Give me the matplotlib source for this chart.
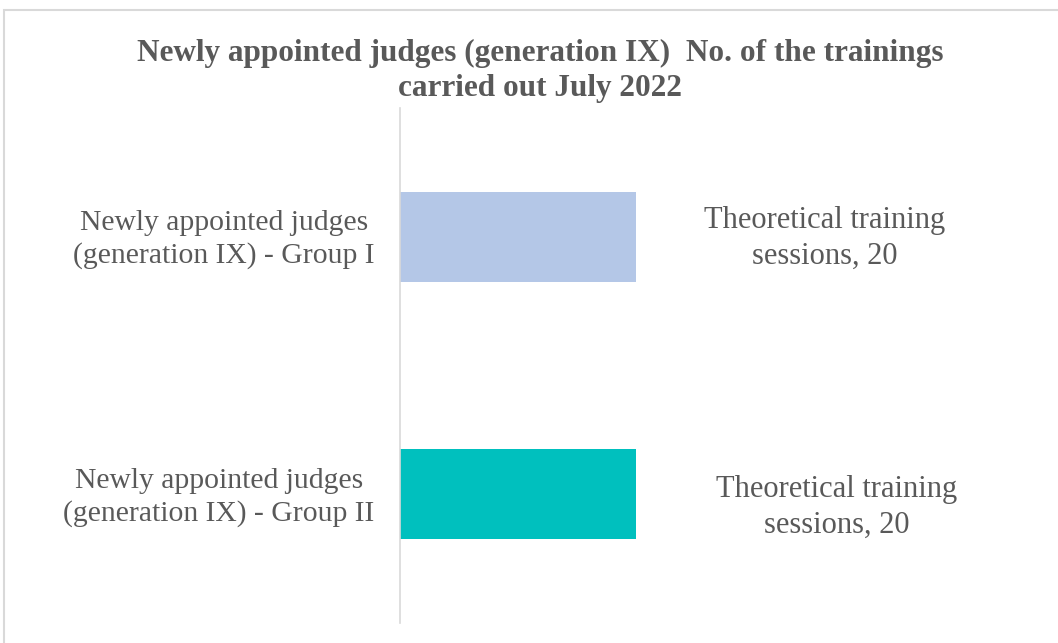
import matplotlib.pyplot as plt
from matplotlib.patches import Rectangle

# data
groups = ['Newly appointed judges\n(generation IX) - Group I',
          'Newly appointed judges\n(generation IX) - Group II']
values = [20, 20]
label_text = 'Theoretical training\nsessions, '
colors = ['#B4C7E7', '#00C0BE']
title = 'Newly appointed judges (generation IX)  No. of the trainings\ncarried out July 2022'

plt.rcParams['font.family'] = ['Liberation Serif', 'DejaVu Serif']
grey = '#595959'

fig = plt.figure(figsize=(10.58, 6.43), dpi=100)
W, H = 1058, 643
ax = fig.add_axes([400 / W, 20 / H, 640 / W, 515 / H])

ypos = list(range(len(groups)))
ax.barh(ypos, values, height=0.35, color=colors, zorder=2)
ax.set_ylim(1.5, -0.5)
ax.set_xlim(0, 54.2)

# data labels (Excel puts them out to the right)
label_dx = [15.95, 16.95]
label_dy = [0.005, 0.05]
for i, v in enumerate(values):
    ax.text(v + label_dx[i], ypos[i] + label_dy[i], label_text + str(v),
            ha='center', va='center', fontsize=22, color=grey,
            linespacing=1.3)

# category labels, drawn as text so they sit where excel puts them
for i, g in enumerate(groups):
    ax.text(-0.04, ypos[i] + 0.012, g, transform=ax.get_yaxis_transform(),
            ha='right', va='center', multialignment='center',
            fontsize=21.3, color=grey, linespacing=1.3)

ax.set_yticks([])
ax.set_xticks([])
for s in ['top', 'right', 'bottom']:
    ax.spines[s].set_visible(False)
ax.spines['left'].set_color('#D9D9D9')
ax.spines['left'].set_linewidth(1.2)

fig.text(540 / W, 1 - 71 / H, title, ha='center', va='center',
         fontsize=22.5, fontweight='bold', color=grey, linespacing=1.25)

# chart border
fig.patches.append(Rectangle((4 / W, -0.1), 1.2, (633 / H) + 0.1,
                             transform=fig.transFigure, fill=False,
                             edgecolor='#D9D9D9', linewidth=1.5))

fig.savefig('out.png', dpi=100)
